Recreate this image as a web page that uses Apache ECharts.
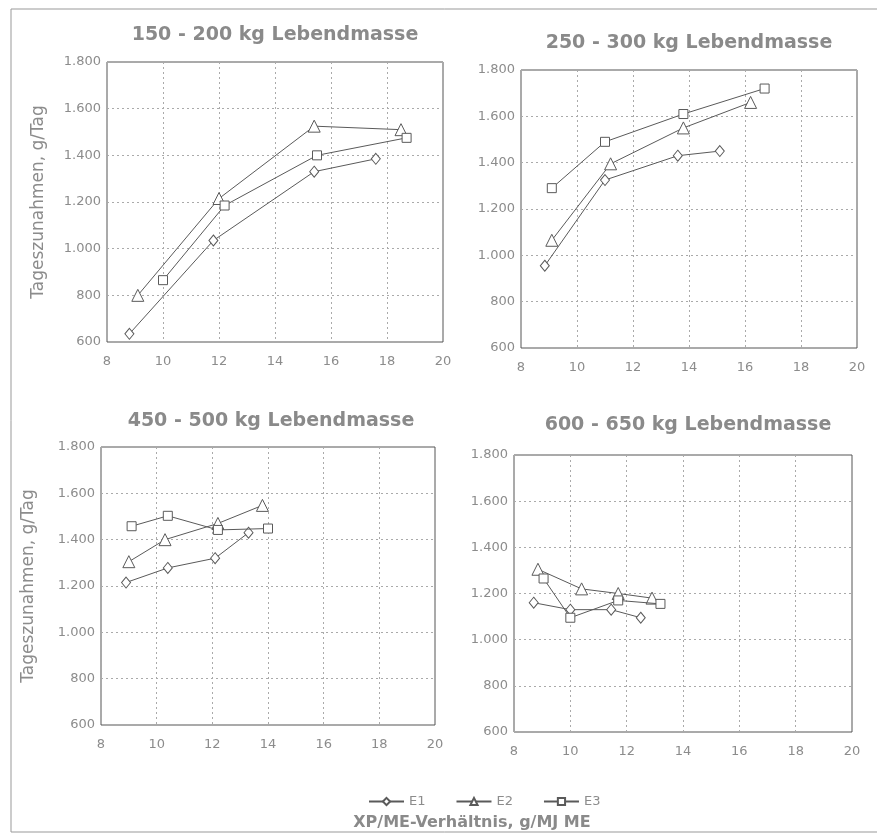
<!DOCTYPE html>
<html>
<head>
<meta charset="utf-8">
<script src="https://cdn.jsdelivr.net/npm/echarts@6/dist/echarts.min.js"></script>
<style>
    html, body { margin: 0; padding: 0; background: #fff; }
    #chart { width: 877px; height: 840px; }
</style>
</head>
<body>
<div id="chart"></div>
<script>
// Achsen
const xTicks = [8, 10, 12, 14, 16, 18, 20];
const yTicks = [600, 800, 1000, 1200, 1400, 1600, 1800];
const seriesNames = ['E1', 'E2', 'E3'];
const panelTitles = ['150 - 200 kg Lebendmasse', '250 - 300 kg Lebendmasse', '450 - 500 kg Lebendmasse', '600 - 650 kg Lebendmasse'];

// [XP/ME, Tageszunahme]
const e1_150 = [[8.8, 635], [11.8, 1035], [15.4, 1330], [17.6, 1385]];
const e2_150 = [[9.1, 800], [12.0, 1215], [15.4, 1525], [18.5, 1510]];
const e3_150 = [[10.0, 865], [12.2, 1185], [15.5, 1400], [18.7, 1475]];

const e1_250 = [[8.85, 955], [11.0, 1325], [13.6, 1430], [15.1, 1450]];
const e2_250 = [[9.1, 1065], [11.2, 1395], [13.8, 1550], [16.2, 1660]];
const e3_250 = [[9.1, 1290], [11.0, 1490], [13.8, 1610], [16.7, 1720]];

const e1_450 = [[8.9, 1215], [10.4, 1278], [12.1, 1320], [13.3, 1430]];
const e2_450 = [[9.0, 1305], [10.3, 1400], [12.2, 1470], [13.8, 1548]];
const e3_450 = [[9.1, 1458], [10.4, 1503], [12.2, 1442], [14.0, 1448]];

const e1_600 = [[8.7, 1160], [10.0, 1130], [11.45, 1130], [12.5, 1095]];
const e2_600 = [[8.85, 1305], [10.4, 1220], [11.7, 1200], [12.9, 1180]];
const e3_600 = [[9.05, 1265], [10.0, 1095], [11.7, 1170], [13.2, 1155]];

const panelData = [
    [e1_150, e2_150, e3_150],
    [e1_250, e2_250, e3_250],
    [e1_450, e2_450, e3_450],
    [e1_600, e2_600, e3_600]
];

const grids = [
    {left: 107, top: 62, width: 336, height: 280},
    {left: 521, top: 70, width: 336, height: 278},
    {left: 101, top: 447, width: 334, height: 278},
    {left: 514, top: 455, width: 338, height: 277}
];
const titlePos = [[275, 35], [689, 43], [271, 421], [688, 425]];

const symbols = ['diamond', 'triangle', 'rect'];
const symbolSizes = [[9, 11], 12, 9];
const lineCol = '#5a5a5a';
const textCol = '#8c8c8c';
const font = 'DejaVu Sans';

let xAxes = [], yAxes = [], series = [], graphics = [];

grids.forEach((g, i) => {
    g.show = true;
    g.borderColor = '#555';
    g.borderWidth = 1;
    xAxes.push({
        gridIndex: i, type: 'value',
        min: xTicks[0], max: xTicks[xTicks.length - 1], interval: 2,
        axisLine: {show: false}, axisTick: {show: false},
        axisLabel: {color: textCol, fontFamily: font, fontSize: 13, margin: 13},
        splitLine: {show: true, lineStyle: {type: [2, 3], color: '#aaa'}}
    });
    yAxes.push({
        gridIndex: i, type: 'value',
        min: yTicks[0], max: yTicks[yTicks.length - 1], interval: 200,
        name: (i % 2 === 0) ? 'Tageszunahmen, g/Tag' : '',
        nameLocation: 'middle', nameGap: i === 0 ? 60 : 64,
        nameTextStyle: {color: textCol, fontFamily: font, fontSize: 17},
        axisLine: {show: false}, axisTick: {show: false},
        axisLabel: {
            color: textCol, fontFamily: font, fontSize: 13, margin: 6,
            formatter: (v) => v >= 1000 ? (v / 1000).toFixed(3) : String(v)
        },
        splitLine: {show: true, lineStyle: {type: [2, 3], color: '#aaa'}}
    });
    panelData[i].forEach((d, k) => {
        series.push({
            name: seriesNames[k], type: 'line',
            xAxisIndex: i, yAxisIndex: i,
            data: d,
            symbol: symbols[k], symbolSize: symbolSizes[k],
            showAllSymbol: true,
            lineStyle: {color: lineCol, width: 1},
            itemStyle: {color: '#fff', borderColor: lineCol, borderWidth: 1},
            z: 3 + k
        });
    });
    /**Titel*/
    graphics.push({
        type: 'text', x: titlePos[i][0], y: titlePos[i][1],
        style: {text: panelTitles[i], fill: '#8a8a8a', font: 'bold 19px "DejaVu Sans"', textAlign: 'center', textVerticalAlign: 'middle'}
    });
});

graphics.push({
    type: 'text', x: 472, y: 823,
    style: {text: 'XP/ME-Verhältnis, g/MJ ME', fill: '#8a8a8a', font: 'bold 16px "DejaVu Sans"', textAlign: 'center', textVerticalAlign: 'middle'}
});
graphics.push({
    type: 'rect', shape: {x: 11, y: 9, width: 890, height: 823},
    style: {fill: 'none', stroke: '#999', lineWidth: 1}, silent: true
});

let chart = echarts.init(document.getElementById('chart'));
chart.setOption({
    backgroundColor: '#fff',
    animation: false,
    grid: grids,
    xAxis: xAxes,
    yAxis: yAxes,
    legend: {
        data: seriesNames,
        left: 363, top: 790,
        itemWidth: 35, itemHeight: 9, itemGap: 30,
        textStyle: {color: textCol, fontFamily: font, fontSize: 13}
    },
    graphic: graphics,
    series: series
});
</script>
</body>
</html>
